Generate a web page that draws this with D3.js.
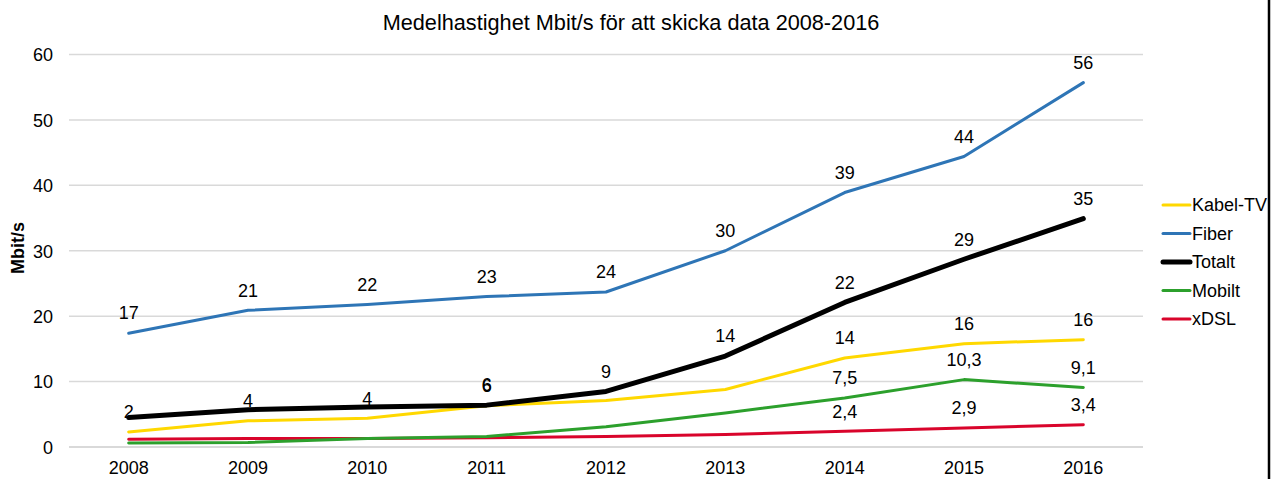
<!DOCTYPE html>
<html>
<head>
<meta charset="utf-8">
<script src="https://cdn.jsdelivr.net/npm/d3@7"></script>
<style>
  html, body { margin: 0; padding: 0; background: #fff; }
  svg { display: block; }
  text { font-family: "Liberation Sans", Arial, sans-serif; fill: #000; }
</style>
</head>
<body>
<svg id="chart" width="1279" height="479"></svg>
<script>
const title = "Medelhastighet Mbit/s för att skicka data 2008-2016";
const yAxisTitle = "Mbit/s";
const years = ["2008","2009","2010","2011","2012","2013","2014","2015","2016"];
const yTicks = [0, 10, 20, 30, 40, 50, 60];

const kabelTV = [2.3, 4.0, 4.4, 6.3, 7.1, 8.8, 13.6, 15.8, 16.4];
const fiber   = [17.4, 20.9, 21.8, 23.0, 23.7, 30.0, 38.9, 44.4, 55.7];
const totalt  = [4.5, 5.7, 6.1, 6.4, 8.5, 13.9, 22.1, 28.7, 34.9];
const mobilt  = [0.6, 0.7, 1.3, 1.6, 3.1, 5.2, 7.5, 10.3, 9.1];
const xdsl    = [1.2, 1.3, 1.3, 1.4, 1.6, 1.9, 2.4, 2.9, 3.4];

const kabelLabels  = ["2","4","4","6",null,null,"14","16","16"];
const fiberLabels  = ["17","21","22","23","24","30","39","44","56"];
const totaltLabels = [null,null,null,"6","9","14","22","29","35"];
const mobiltLabels = [null,null,null,null,null,null,"7,5","10,3","9,1"];
const xdslLabels   = [null,null,null,null,null,null,"2,4","2,9","3,4"];

const seriesNames = ["Kabel-TV","Fiber","Totalt","Mobilt","xDSL"];
const seriesValues = [kabelTV, fiber, totalt, mobilt, xdsl];
const seriesLabels = [kabelLabels, fiberLabels, totaltLabels, mobiltLabels, xdslLabels];
const seriesColors = ["#FFD800","#2E75B6","#000000","#2CA02C","#D9042B"];
const seriesWidths = [3, 3, 5, 3, 3];
const drawOrder = [4, 3, 0, 1, 2]; // xDSL, Mobilt, Kabel-TV, Fiber, Totalt on top

const svg = d3.select("#chart");
const plot = {left: 69, right: 1143, top: 54.5, bottom: 447};

const x = d3.scaleBand().domain(years).range([plot.left, plot.right]);
const y = d3.scaleLinear().domain([0, 60]).range([plot.bottom, plot.top]);
const cx = d => x(d) + x.bandwidth() / 2;

// gridlines
svg.append("g").selectAll("line").data(yTicks).join("line")
  .attr("x1", plot.left).attr("x2", plot.right)
  .attr("y1", d => y(d)).attr("y2", d => y(d))
  .attr("stroke", "#d9d9d9").attr("stroke-width", d => d === 0 ? 2 : 1.5);

// y axis tick labels
const yAxis = d3.axisLeft(y).tickValues(yTicks).tickSize(0).tickPadding(0).tickFormat(d3.format("d"));
const yg = svg.append("g").attr("transform", `translate(53,0)`).call(yAxis);
yg.select(".domain").remove();
yg.selectAll("text").attr("font-size", 18).attr("font-family", "Liberation Sans, Arial, sans-serif").attr("fill", "#000").attr("dy", "0.35em");

// x axis labels
const xAxis = d3.axisBottom(x).tickSize(0).tickPadding(0);
const xg = svg.append("g").attr("transform", `translate(0,${plot.bottom})`).call(xAxis);
xg.select(".domain").remove();
xg.selectAll("text").attr("font-size", 18).attr("font-family", "Liberation Sans, Arial, sans-serif").attr("fill", "#000").attr("dy", null).attr("y", 27);

// y axis title
svg.append("text")
  .attr("transform", "translate(24,248) rotate(-90)")
  .attr("text-anchor", "middle")
  .attr("font-size", 18).attr("font-weight", "bold")
  .text(yAxisTitle);

// title
svg.append("text")
  .attr("x", 631).attr("y", 30)
  .attr("text-anchor", "middle")
  .attr("font-size", 21.7)
  .text(title);

// lines
const line = d3.line().x((d, i) => cx(years[i])).y(d => y(d));
drawOrder.forEach(si => {
  svg.append("path")
    .datum(seriesValues[si])
    .attr("d", line)
    .attr("fill", "none")
    .attr("stroke", seriesColors[si])
    .attr("stroke-width", seriesWidths[si])
    .attr("stroke-linejoin", "round")
    .attr("stroke-linecap", "round");
});

// data labels
seriesValues.forEach((vals, si) => {
  svg.append("g").selectAll("text")
    .data(vals.map((v, i) => ({v, i, label: seriesLabels[si][i]})).filter(d => d.label !== null))
    .join("text")
    .attr("x", d => cx(years[d.i]))
    .attr("y", d => y(d.v) - 20)
    .attr("dy", "0.35em")
    .attr("text-anchor", "middle")
    .attr("font-size", 18)
    .text(d => d.label);
});

// legend
const legY0 = 205, legStep = 28.5;
seriesNames.forEach((name, i) => {
  const ly = legY0 + i * legStep;
  svg.append("line")
    .attr("x1", 1163).attr("x2", 1190)
    .attr("y1", ly).attr("y2", ly)
    .attr("stroke", seriesColors[i])
    .attr("stroke-width", seriesWidths[i])
    .attr("stroke-linecap", "round");
  svg.append("text")
    .attr("x", 1192).attr("y", ly)
    .attr("dy", "0.35em")
    .attr("font-size", 18)
    .text(name);
});

// right border line
svg.append("line")
  .attr("x1", 1269).attr("x2", 1269)
  .attr("y1", 0).attr("y2", 479)
  .attr("stroke", "#000").attr("stroke-width", 2.5);
</script>
</body>
</html>
